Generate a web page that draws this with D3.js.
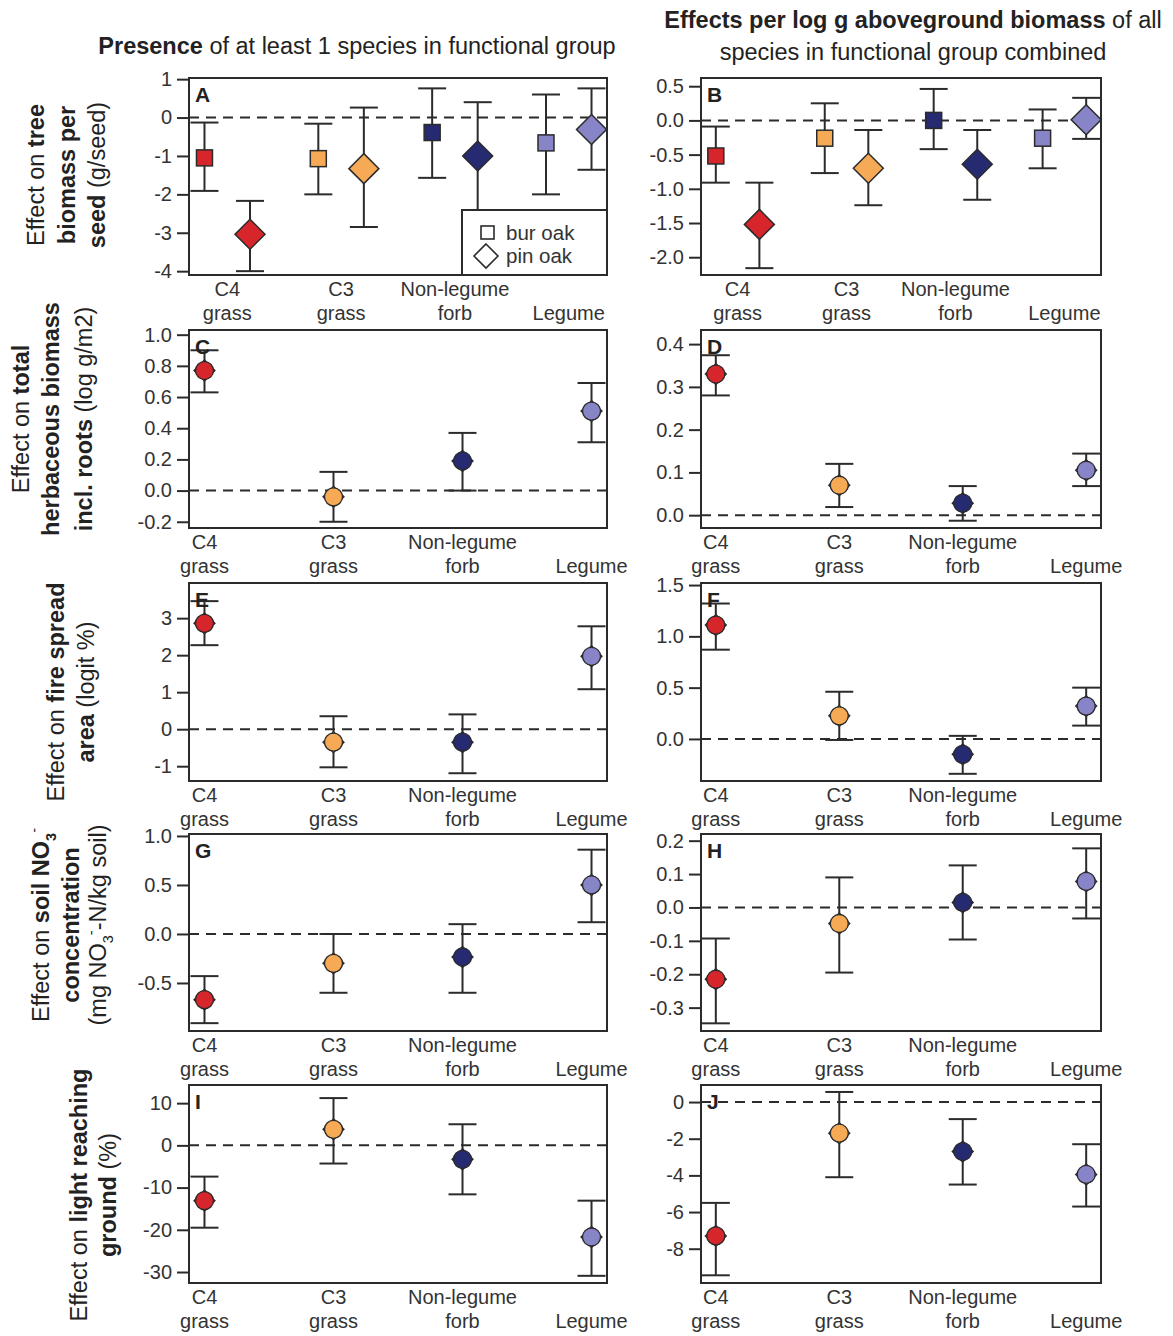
<!DOCTYPE html>
<html>
<head>
<meta charset="utf-8">
<script src="https://cdn.jsdelivr.net/npm/d3@7"></script>
<style>
  html, body { margin: 0; padding: 0; background: #fff; }
  svg { display: block; font-family: "Liberation Sans", Arial, Helvetica, sans-serif; }
</style>
</head>
<body>
<svg id="fig" width="1173" height="1336"></svg>
<script>
// ---- functional groups ----
const groups = ["C4 grass", "C3 grass", "Non-legume forb", "Legume"];
const groupLine1 = ["C4", "C3", "Non-legume", ""];
const groupLine2 = ["grass", "grass", "forb", "Legume"];
const groupColors = ["#d7262b", "#f7aa55", "#262a70", "#8884c8"];

// ---- A: presence, tree biomass per seed (g/seed) ----
const aBurMean = [-1.05, -1.07, -0.39, -0.66];
const aBurLo   = [-1.91, -2.00, -1.57, -2.00];
const aBurHi   = [-0.13, -0.16, 0.76, 0.60];
const aPinMean = [-3.04, -1.33, -1.00, -0.31];
const aPinLo   = [-4.00, -2.85, -2.60, -1.36];
const aPinHi   = [-2.17, 0.26, 0.40, 0.76];
const aTicks = [-4, -3, -2, -1, 0, 1];

// ---- B: per log g biomass, tree biomass per seed ----
const bBurMean = [-0.52, -0.26, 0.00, -0.26];
const bBurLo   = [-0.91, -0.77, -0.42, -0.70];
const bBurHi   = [-0.09, 0.25, 0.46, 0.16];
const bPinMean = [-1.52, -0.70, -0.64, 0.01];
const bPinLo   = [-2.16, -1.24, -1.16, -0.27];
const bPinHi   = [-0.91, -0.14, -0.14, 0.33];
const bTicks = [-2.0, -1.5, -1.0, -0.5, 0.0, 0.5];

// ---- C / D: total herbaceous biomass incl. roots (log g/m2) ----
const cMean = [0.77, -0.04, 0.19, 0.51];
const cLo   = [0.63, -0.20, 0.00, 0.31];
const cHi   = [0.90, 0.12, 0.37, 0.69];
const cTicks = [-0.2, 0.0, 0.2, 0.4, 0.6, 0.8, 1.0];
const dMean = [0.330, 0.070, 0.028, 0.105];
const dLo   = [0.280, 0.019, -0.013, 0.068];
const dHi   = [0.374, 0.120, 0.068, 0.144];
const dTicks = [0.0, 0.1, 0.2, 0.3, 0.4];

// ---- E / F: fire spread area (logit %) ----
const eMean = [2.86, -0.35, -0.35, 1.97];
const eLo   = [2.27, -1.03, -1.19, 1.08];
const eHi   = [3.46, 0.35, 0.40, 2.78];
const eTicks = [-1, 0, 1, 2, 3];
const fMean = [1.11, 0.225, -0.15, 0.32];
const fLo   = [0.87, -0.01, -0.34, 0.13];
const fHi   = [1.32, 0.46, 0.03, 0.50];
const fTicks = [0.0, 0.5, 1.0, 1.5];

// ---- G / H: soil nitrate concentration ----
const gMean = [-0.67, -0.30, -0.235, 0.50];
const gLo   = [-0.91, -0.60, -0.60, 0.12];
const gHi   = [-0.43, 0.00, 0.10, 0.86];
const gTicks = [-0.5, 0.0, 0.5, 1.0];
const hMean = [-0.215, -0.048, 0.015, 0.078];
const hLo   = [-0.347, -0.195, -0.096, -0.033];
const hHi   = [-0.093, 0.090, 0.126, 0.177];
const hTicks = [-0.3, -0.2, -0.1, 0.0, 0.1, 0.2];

// ---- I / J: light reaching ground (%) ----
const iMean = [-13.1, 3.8, -3.3, -21.7];
const iLo   = [-19.5, -4.3, -11.6, -30.9];
const iHi   = [-7.4, 11.2, 5.0, -13.1];
const iTicks = [-30, -20, -10, 0, 10];
const jMean = [-7.3, -1.7, -2.7, -3.95];
const jLo   = [-9.45, -4.1, -4.5, -5.7];
const jHi   = [-5.5, 0.55, -0.93, -2.3];
const jTicks = [-8, -6, -4, -2, 0];

// ---- layout ----
const colX = [[189, 607], [701, 1101]];
const rowY = [[78, 275], [330, 528], [583, 781], [834, 1031], [1085, 1283]];
const ink = "#2b2b2b";
const labelSize = 20;
const titleSize = 23.5;
const svg = d3.select("#fig");

const fmt1 = d3.format(".1f");
const fmt0 = d3.format("d");
const minus = s => s.replace("\u2212", "-");

function frame(col, row) {
  return { x0: colX[col][0], x1: colX[col][1], y0: rowY[row][0], y1: rowY[row][1] };
}

function errorBar(g, x, y, lo, hi, cap) {
  g.append("line").attr("x1", x).attr("x2", x).attr("y1", y(lo)).attr("y2", y(hi))
    .attr("stroke", ink).attr("stroke-width", 2);
  [lo, hi].forEach(v => g.append("line").attr("x1", x - cap).attr("x2", x + cap)
    .attr("y1", y(v)).attr("y2", y(v)).attr("stroke", ink).attr("stroke-width", 2));
}

function panel(opts) {
  const f = frame(opts.col, opts.row);
  const g = svg.append("g");
  const paired = !!opts.series2;
  const x = d3.scaleLinear()
    .domain(paired ? [0.864, 4.536] : [0.88, 4.12])
    .range([f.x0, f.x1]);
  const y = d3.scaleLinear().domain(opts.domain).range([f.y1, f.y0]);

  // y axis
  const ax = g.append("g").attr("transform", `translate(${f.x0},0)`)
    .call(d3.axisLeft(y).tickValues(opts.ticks).tickSize(12).tickPadding(5)
      .tickFormat(v => minus(opts.fmt(v))));
  ax.select(".domain").remove();
  ax.selectAll(".tick line").attr("stroke", ink).attr("stroke-width", 2);
  ax.selectAll(".tick text").attr("fill", "#333").style("font-size", labelSize + "px")
    .style("font-family", "'Liberation Sans', Arial, sans-serif");

  // zero reference
  g.append("line").attr("x1", f.x0).attr("x2", f.x1).attr("y1", y(0)).attr("y2", y(0))
    .attr("stroke", ink).attr("stroke-width", 2).attr("stroke-dasharray", "10,7");

  // group labels
  groups.forEach((name, i) => {
    const cx = x(i + 1 + (paired ? 0.2 : 0));
    [groupLine1[i], groupLine2[i]].forEach((t, k) => {
      if (!t) return;
      g.append("text").attr("x", cx).attr("y", f.y1 + 21 + k * 24)
        .attr("text-anchor", "middle").attr("fill", "#333")
        .style("font-size", labelSize + "px").text(t);
    });
  });

  if (paired) {
    const s1 = opts.series1, s2 = opts.series2;
    groups.forEach((_, i) => errorBar(g, x(i + 1), y, s1.lo[i], s1.hi[i], 14));
    groups.forEach((_, i) => errorBar(g, x(i + 1.4), y, s2.lo[i], s2.hi[i], 14));
    groups.forEach((_, i) => {
      const px = x(i + 1), py = y(s1.mean[i]);
      g.append("rect").attr("x", px - 8).attr("y", py - 8).attr("width", 16).attr("height", 16)
        .attr("fill", groupColors[i]).attr("stroke", ink).attr("stroke-width", 1.5);
    });
    groups.forEach((_, i) => {
      const px = x(i + 1.4), py = y(s2.mean[i]), r = 15;
      g.append("path").attr("d", `M${px},${py - r}L${px + r},${py}L${px},${py + r}L${px - r},${py}Z`)
        .attr("fill", groupColors[i]).attr("stroke", ink).attr("stroke-width", 1.5);
    });
  } else {
    groups.forEach((_, i) => errorBar(g, x(i + 1), y, opts.lo[i], opts.hi[i], 14));
    groups.forEach((_, i) => {
      const px = x(i + 1), py = y(opts.mean[i]), r = 10.5;
      g.append("path").attr("d", `M${px},${py - r}L${px + r},${py}L${px},${py + r}L${px - r},${py}Z`)
        .attr("fill", groupColors[i]).attr("stroke", ink).attr("stroke-width", 1.3);
      g.append("circle").attr("cx", px).attr("cy", py).attr("r", 9)
        .attr("fill", groupColors[i]).attr("stroke", ink).attr("stroke-width", 1.3);
    });
  }

  if (opts.legend) {
    const lx = 462, ly = 210;
    g.append("rect").attr("x", lx).attr("y", ly).attr("width", f.x1 - lx).attr("height", f.y1 - ly)
      .attr("fill", "#fff").attr("stroke", ink).attr("stroke-width", 2);
    g.append("rect").attr("x", 481).attr("y", 226).attr("width", 13).attr("height", 13)
      .attr("fill", "#fff").attr("stroke", ink).attr("stroke-width", 1.6);
    g.append("path").attr("d", "M486,244L498,256L486,268L474,256Z")
      .attr("fill", "#fff").attr("stroke", ink).attr("stroke-width", 1.6);
    g.append("text").attr("x", 506).attr("y", 240).attr("fill", "#333")
      .style("font-size", "20.5px").text("bur oak");
    g.append("text").attr("x", 506).attr("y", 263).attr("fill", "#333")
      .style("font-size", "20.5px").text("pin oak");
  }

  // plot frame and panel letter
  g.append("rect").attr("x", f.x0).attr("y", f.y0).attr("width", f.x1 - f.x0).attr("height", f.y1 - f.y0)
    .attr("fill", "none").attr("stroke", ink).attr("stroke-width", 2);
  g.append("text").attr("x", f.x0 + 6).attr("y", f.y0 + 24).attr("fill", "#222")
    .style("font-size", "21px").style("font-weight", "bold").text(opts.letter);
}

panel({ col: 0, row: 0, letter: "A", domain: [-4.1, 1.03], ticks: aTicks, fmt: fmt0, legend: true,
  series1: { mean: aBurMean, lo: aBurLo, hi: aBurHi },
  series2: { mean: aPinMean, lo: aPinLo, hi: aPinHi } });
panel({ col: 1, row: 0, letter: "B", domain: [-2.26, 0.62], ticks: bTicks, fmt: fmt1,
  series1: { mean: bBurMean, lo: bBurLo, hi: bBurHi },
  series2: { mean: bPinMean, lo: bPinLo, hi: bPinHi } });
panel({ col: 0, row: 1, letter: "C", domain: [-0.24, 1.03], ticks: cTicks, fmt: fmt1, mean: cMean, lo: cLo, hi: cHi });
panel({ col: 1, row: 1, letter: "D", domain: [-0.03, 0.433], ticks: dTicks, fmt: fmt1, mean: dMean, lo: dLo, hi: dHi });
panel({ col: 0, row: 2, letter: "E", domain: [-1.4, 3.95], ticks: eTicks, fmt: fmt0, mean: eMean, lo: eLo, hi: eHi });
panel({ col: 1, row: 2, letter: "F", domain: [-0.41, 1.52], ticks: fTicks, fmt: fmt1, mean: fMean, lo: fLo, hi: fHi });
panel({ col: 0, row: 3, letter: "G", domain: [-0.99, 1.02], ticks: gTicks, fmt: fmt1, mean: gMean, lo: gLo, hi: gHi });
panel({ col: 1, row: 3, letter: "H", domain: [-0.37, 0.22], ticks: hTicks, fmt: fmt1, mean: hMean, lo: hLo, hi: hHi });
panel({ col: 0, row: 4, letter: "I", domain: [-32.6, 14.3], ticks: iTicks, fmt: fmt0, mean: iMean, lo: iLo, hi: iHi });
panel({ col: 1, row: 4, letter: "J", domain: [-9.87, 0.93], ticks: jTicks, fmt: fmt0, mean: jMean, lo: jLo, hi: jHi });

// ---- rich text helper: segments {t, b (bold), sh (shift: "sub"/"sup")} ----
function richText(parent, segs, size) {
  const t = parent.append("text").attr("text-anchor", "middle").attr("fill", "#222")
    .style("font-size", size + "px");
  let off = 0;
  segs.forEach(s => {
    const target = s.sh === "sub" ? size * 0.28 : s.sh === "sup" ? -size * 0.42 : 0;
    const sp = t.append("tspan").attr("dy", target - off).text(s.t);
    off = target;
    if (s.b) sp.style("font-weight", "bold");
    if (s.sh) sp.style("font-size", (size * 0.62) + "px");
  });
  return t;
}

// column headings
const head = svg.append("g");
richText(head.append("g").attr("transform", "translate(357,54)"),
  [{ t: "Presence", b: true }, { t: " of at least 1 species in functional group" }], titleSize);
richText(head.append("g").attr("transform", "translate(913,28)"),
  [{ t: "Effects per log g aboveground biomass", b: true }, { t: " of all" }], titleSize);
richText(head.append("g").attr("transform", "translate(913,60)"),
  [{ t: "species in functional group combined" }], titleSize);

// row titles (rotated)
const rowTitles = [
  { cy: 175, xs: [44, 75, 105], lines: [
    [{ t: "Effect on " }, { t: "tree", b: true }],
    [{ t: "biomass per", b: true }],
    [{ t: "seed", b: true }, { t: " (g/seed)" }]] },
  { cy: 419, xs: [29, 59, 92], lines: [
    [{ t: "Effect on " }, { t: "total", b: true }],
    [{ t: "herbaceous biomass", b: true }],
    [{ t: "incl. roots", b: true }, { t: " (log g/m2)" }]] },
  { cy: 692, xs: [64, 94], lines: [
    [{ t: "Effect on " }, { t: "fire spread", b: true }],
    [{ t: "area", b: true }, { t: " (logit %)" }]] },
  { cy: 925, xs: [49, 79, 106], lines: [
    [{ t: "Effect on " }, { t: "soil NO", b: true }, { t: "3", b: true, sh: "sub" }, { t: "-", sh: "sup" }],
    [{ t: "concentration", b: true }],
    [{ t: "(mg NO" }, { t: "3", sh: "sub" }, { t: "-", sh: "sup" }, { t: "-N/kg soil)" }]] },
  { cy: 1195, xs: [87, 116], lines: [
    [{ t: "Effect on " }, { t: "light reaching", b: true }],
    [{ t: "ground", b: true }, { t: " (%)" }]] }
];
rowTitles.forEach(r => {
  r.lines.forEach((segs, k) => {
    richText(svg.append("g").attr("transform", `translate(${r.xs[k]},${r.cy}) rotate(-90)`), segs, titleSize);
  });
});
</script>
</body>
</html>
